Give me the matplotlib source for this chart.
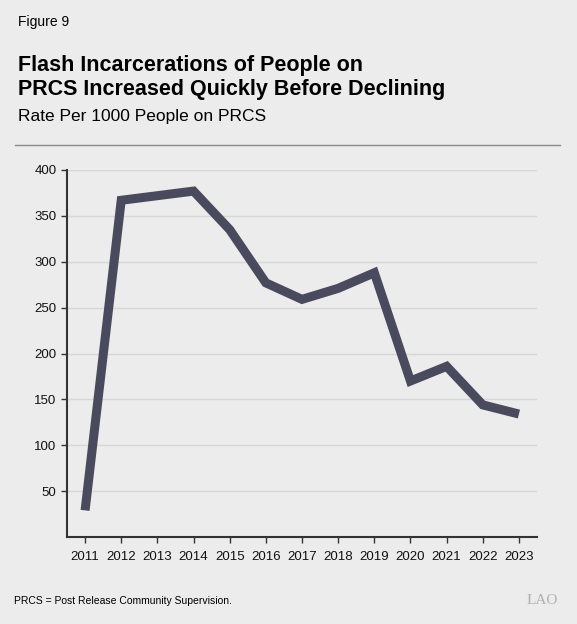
import matplotlib
matplotlib.use('Agg')
import matplotlib.pyplot as plt

plt.rcParams['font.family'] = ['Liberation Sans', 'DejaVu Sans']

# data
years = [2011, 2012, 2013, 2014, 2015, 2016, 2017, 2018, 2019, 2020, 2021, 2022, 2023]
rate = [29, 367, 372, 377, 335, 277, 259, 271, 288, 170, 186, 144, 134]
yticks = [50, 100, 150, 200, 250, 300, 350, 400]

bg = '#ebeceb'
line_col = '#4a4a5e'

fig = plt.figure(figsize=(5.77, 6.24), dpi=100, facecolor=bg)
ax = fig.add_axes([67/577, 1 - 537/624, (537 - 67)/577, (537 - 170)/624])
ax.set_facecolor(bg)

ax.plot(years, rate, color=line_col, lw=6.5, solid_joinstyle='miter', solid_capstyle='butt', zorder=3)

ax.set_xlim(2010.5, 2023.5)
ax.set_ylim(0, 400)
ax.set_xticks(years)
ax.set_xticklabels([str(y) for y in years])
ax.set_yticks(yticks)
ax.grid(axis='y', color='#d6d7d6', lw=1)
ax.set_axisbelow(True)

for s in ['top', 'right']:
    ax.spines[s].set_visible(False)
for s in ['left', 'bottom']:
    ax.spines[s].set_color('#333333')
    ax.spines[s].set_linewidth(1.5)
ax.tick_params(axis='both', labelsize=9.5, color='#333333', length=4, width=1, labelcolor='#111111')
ax.tick_params(axis='x', pad=6)

# titles
fig.text(18/577, 1 - 22/624, 'Figure 9', fontsize=10, va='center', ha='left')
fig.text(18/577, 1 - 65/624, 'Flash Incarcerations of People on', fontsize=15.5, fontweight='bold', va='center', ha='left')
fig.text(18/577, 1 - 90/624, 'PRCS Increased Quickly Before Declining', fontsize=15.5, fontweight='bold', va='center', ha='left')
fig.text(18/577, 1 - 116/624, 'Rate Per 1000 People on PRCS', fontsize=12.5, va='center', ha='left')
fig.add_artist(plt.Line2D([15/577, 560/577], [1 - 145/624, 1 - 145/624], color='#8a8a8a', lw=1))

fig.text(14/577, 1 - 601/624, 'PRCS = Post Release Community Supervision.', fontsize=7.5, va='center', ha='left')
fig.text(558/577, 1 - 600/624, 'LAO', fontsize=11, family='Liberation Serif', color='#b0b0b0', va='center', ha='right')

fig.savefig('out.png', dpi=100, facecolor=bg)
